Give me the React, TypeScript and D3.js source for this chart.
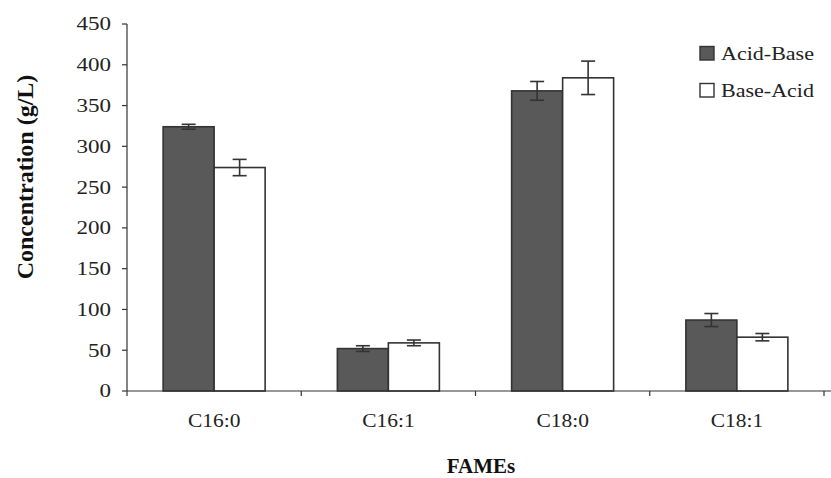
import React from "react";
import * as d3 from "d3";

const categories = ["C16:0", "C16:1", "C18:0", "C18:1"];
const seriesNames = ["Acid-Base", "Base-Acid"];
const acidBase = [324, 52, 368, 87];
const acidBaseErr = [3, 3.5, 11.5, 8];
const baseAcid = [274, 59, 384, 66];
const baseAcidErr = [10, 3.5, 20.5, 4.5];
const yTicks = [0, 50, 100, 150, 200, 250, 300, 350, 400, 450];

const W = 831;
const H = 478;
const left = 127;
const right = 824;
const top = 24;
const bottom = 391;
const FONT = "'Liberation Serif', 'Times New Roman', serif";
const AXIS = "#333";
const fills = ["#595959", "#ffffff"];

// Text that is slightly widened horizontally around its anchor point.
function Txt(props: {
  x: number;
  y: number;
  sx?: number;
  size: number;
  anchor?: "start" | "middle" | "end";
  bold?: boolean;
  dy?: string;
  children: React.ReactNode;
}) {
  const { x, y, sx = 1, size, anchor = "start", bold, dy, children } = props;
  return (
    <text
      transform={`translate(${x},${y}) scale(${sx},1)`}
      textAnchor={anchor}
      fontSize={size}
      fontWeight={bold ? "bold" : "normal"}
      fill={bold ? "#111" : "#222"}
      dy={dy}
    >
      {children}
    </text>
  );
}

export default function App() {
  const x = d3.scaleBand<string>().domain(categories).range([left, right]).paddingInner(0).paddingOuter(0);
  const y = d3.scaleLinear().domain([0, 450]).range([bottom, top]);
  const barW = 51;
  const series = [
    { name: seriesNames[0], values: acidBase, errs: acidBaseErr },
    { name: seriesNames[1], values: baseAcid, errs: baseAcidErr },
  ];
  const boundaries = [...categories.map((c) => x(c) as number), right];

  return (
    <svg width={W} height={H} style={{ position: "absolute", left: 0, top: 0, background: "#fff" }} fontFamily={FONT}>
      {/* bars */}
      {series.map((s, si) =>
        categories.map((c, ci) => {
          const cx = (x(c) as number) + x.bandwidth() / 2;
          const x0 = cx - barW + si * barW;
          const v = s.values[ci];
          return (
            <rect
              key={`${si}-${ci}`}
              x={x0}
              y={y(v)}
              width={barW}
              height={bottom - y(v)}
              fill={fills[si]}
              stroke={AXIS}
              strokeWidth={1.6}
            />
          );
        })
      )}
      {/* error bars */}
      {series.map((s, si) =>
        categories.map((c, ci) => {
          const cx = (x(c) as number) + x.bandwidth() / 2 - barW / 2 + si * barW;
          const v = s.values[ci];
          const e = s.errs[ci];
          const y1 = y(v + e);
          const y2 = y(v - e);
          return (
            <g key={`e${si}-${ci}`} stroke={AXIS} strokeWidth={1.6}>
              <line x1={cx} x2={cx} y1={y1} y2={y2} />
              <line x1={cx - 7} x2={cx + 7} y1={y1} y2={y1} />
              <line x1={cx - 7} x2={cx + 7} y1={y2} y2={y2} />
            </g>
          );
        })
      )}
      {/* y axis */}
      <line x1={left} x2={left} y1={top} y2={bottom} stroke={AXIS} strokeWidth={1.2} />
      {yTicks.map((t) => (
        <g key={t}>
          <line x1={left - 5} x2={left} y1={y(t)} y2={y(t)} stroke={AXIS} strokeWidth={1.2} />
          <Txt x={111} y={y(t)} dy="0.36em" anchor="end" size={18} sx={1.28}>
            {t}
          </Txt>
        </g>
      ))}
      {/* x axis */}
      <line x1={left} x2={W} y1={bottom} y2={bottom} stroke={AXIS} strokeWidth={1.2} />
      {boundaries.map((b, i) => (
        <line key={i} x1={b} x2={b} y1={bottom} y2={bottom + 5} stroke={AXIS} strokeWidth={1.2} />
      ))}
      {categories.map((c) => (
        <Txt key={c} x={(x(c) as number) + x.bandwidth() / 2} y={426.5} anchor="middle" size={19} sx={1.13}>
          {c}
        </Txt>
      ))}
      {/* axis titles */}
      <Txt x={481} y={473} anchor="middle" size={21} bold>
        FAMEs
      </Txt>
      <text
        transform={`translate(33, 177) rotate(-90)`}
        textAnchor="middle"
        fontSize={24}
        fontWeight="bold"
        fill="#111"
      >
        Concentration (g/L)
      </text>
      {/* legend */}
      {series.map((s, si) => (
        <g key={s.name} transform={`translate(0, ${si * 37})`}>
          <rect x={700} y={46.5} width={14} height={13.5} fill={fills[si]} stroke={AXIS} strokeWidth={1.4} />
          <Txt x={721} y={59.5} size={19.5} sx={1.13}>
            {s.name}
          </Txt>
        </g>
      ))}
    </svg>
  );
}
